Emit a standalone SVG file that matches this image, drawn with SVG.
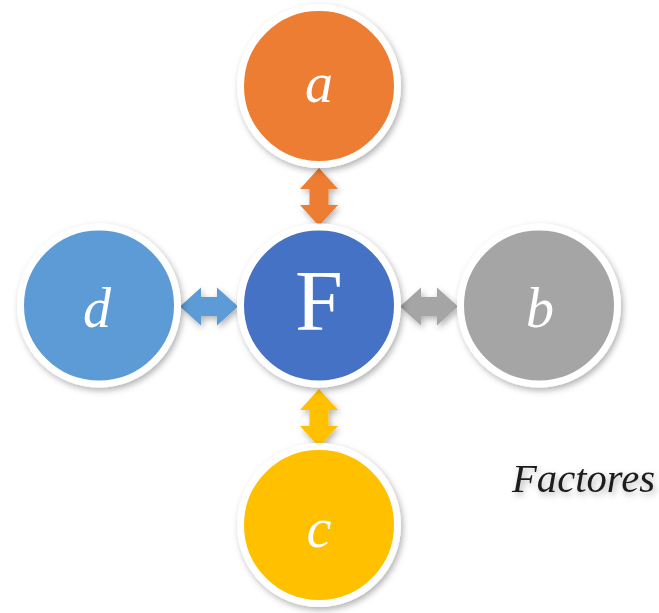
<svg xmlns="http://www.w3.org/2000/svg" xmlns:xlink="http://www.w3.org/1999/xlink" width="659" height="613" viewBox="0 0 659 613">
  <style>
    .node { stroke: #ffffff; stroke-width: 7; }
    .lbl { font-family: "Liberation Serif", "DejaVu Serif", serif; font-style: italic; font-size: 56px; fill: #ffffff; text-anchor: middle; }
    .big { font-family: "Liberation Serif", "DejaVu Serif", serif; font-size: 86px; fill: #ffffff; text-anchor: middle; }
    .title { font-family: "Liberation Serif", "DejaVu Serif", serif; font-style: italic; font-size: 39px; fill: #1a1a1a; }
  </style>
  <defs>
    <filter id="sh" x="-20%" y="-20%" width="140%" height="140%">
      <feDropShadow dx="2" dy="3" stdDeviation="3" flood-color="#000" flood-opacity="0.3"/>
    </filter>
    <path id="arr" d="M0,-29 L19,-8 L9.5,-8 L9.5,8 L19,8 L0,29 L-19,8 L-9.5,8 L-9.5,-8 L-19,-8 Z"/>
  </defs>
  <rect width="659" height="613" fill="#ffffff"/>
  <g id="connectors" filter="url(#sh)">
    <use xlink:href="#arr" href="#arr" fill="#ED7D31" transform="translate(319,197)"/>
    <use xlink:href="#arr" href="#arr" fill="#FFC000" transform="translate(319,418)"/>
    <use xlink:href="#arr" href="#arr" fill="#5B9BD5" transform="translate(209,306.5) rotate(90)"/>
    <use xlink:href="#arr" href="#arr" fill="#A5A5A5" transform="translate(429,306.5) rotate(90)"/>
  </g>
  <g id="node-a" filter="url(#sh)">
    <circle class="node" cx="319" cy="86" r="78.5" fill="#ED7D31"/>
    <text class="lbl" x="319" y="102">a</text>
  </g>
  <g id="node-F" filter="url(#sh)">
    <circle class="node" cx="319" cy="305.5" r="78.5" fill="#4472C4"/>
    <text class="big" x="319" y="330">F</text>
  </g>
  <g id="node-d" filter="url(#sh)">
    <circle class="node" cx="99" cy="305.5" r="78.5" fill="#5B9BD5"/>
    <text class="lbl" x="97" y="327">d</text>
  </g>
  <g id="node-b" filter="url(#sh)">
    <circle class="node" cx="539" cy="305.5" r="78.5" fill="#A5A5A5"/>
    <text class="lbl" x="540" y="327">b</text>
  </g>
  <g id="node-c" filter="url(#sh)">
    <circle class="node" cx="319" cy="525" r="78.5" fill="#FFC000"/>
    <text class="lbl" x="319" y="547">c</text>
  </g>
  <g id="title" filter="url(#sh)">
    <text class="title" x="512" y="492" textLength="143" lengthAdjust="spacingAndGlyphs">Factores</text>
  </g>
</svg>
